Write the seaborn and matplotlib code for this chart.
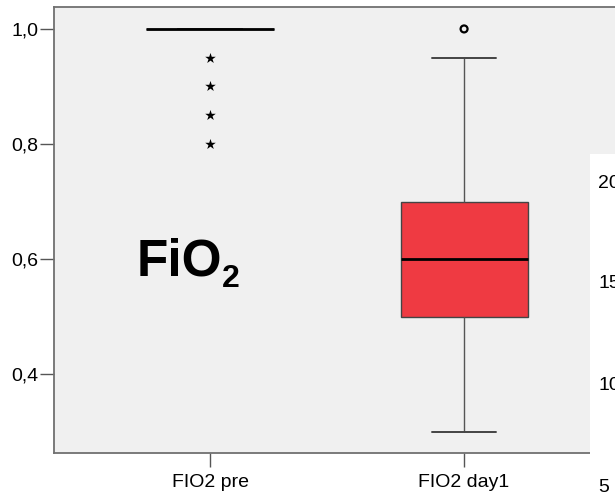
import matplotlib
matplotlib.use("Agg")
import matplotlib.pyplot as plt
from matplotlib.patches import Rectangle
import seaborn as sns
import pandas as pd

categories = ["FIO2 pre", "FIO2 day1"]
fio2_pre = [1.0, 1.0, 1.0, 1.0, 1.0, 1.0, 1.0, 1.0, 1.0, 1.0, 1.0, 1.0,
            1.0, 1.0, 0.95, 0.9, 0.85, 0.8]
fio2_day1 = [0.3, 0.4, 0.5, 0.5, 0.5, 0.5, 0.6, 0.6, 0.6, 0.6, 0.6, 0.7,
             0.7, 0.7, 0.7, 0.8, 0.95, 1.0]
pre_extremes = [0.95, 0.9, 0.85, 0.8]
day1_outliers = [1.0]
ytick_values = [0.4, 0.6, 0.8, 1.0]
ytick_labels = ["0,4", "0,6", "0,8", "1,0"]
other_chart_labels = ["20", "15", "10", "5"]

sns.set_style("white")
plt.rcParams["font.family"] = ["Liberation Sans", "DejaVu Sans"]
plt.rcParams["text.color"] = "black"

df = pd.DataFrame({
    "var": [categories[0]] * len(fio2_pre) + [categories[1]] * len(fio2_day1),
    "val": fio2_pre + fio2_day1,
})

fig = plt.figure(figsize=(6.15, 4.96), dpi=100)
ax = fig.add_axes([54 / 615, 1 - 453 / 496, 1 - 54 / 615, (453 - 6.5) / 496])
ax.set_facecolor("#f0f0f0")

sns.boxplot(data=df, x="var", y="val", order=categories, ax=ax,
            color="#ef3a42", saturation=1, width=0.5, whis=1.4,
            showfliers=False, linecolor="#444444", linewidth=1.0,
            medianprops=dict(color="black", linewidth=2.0),
            whiskerprops=dict(color="#555555", linewidth=1.0),
            capprops=dict(color="#444444", linewidth=1.4))

# SPSS-style outlier markers
sns.stripplot(x=[categories[0]] * len(pre_extremes), y=pre_extremes,
              order=categories, jitter=False, marker="*", color="black",
              size=8, linewidth=0, ax=ax)
sns.stripplot(x=[categories[1]] * len(day1_outliers), y=day1_outliers,
              order=categories, jitter=False, marker="o", facecolor="none",
              edgecolor="black", linewidth=1.6, size=5, ax=ax)

ax.set_xlim(-0.614, 1.594)
ax.set_ylim(0.263, 1.039)
ax.set_yticks(ytick_values)
ax.set_yticklabels(ytick_labels)
ax.set_xlabel("")
ax.set_ylabel("")
ax.tick_params(axis="both", labelsize=14, labelcolor="black", length=10,
               width=1, direction="out", pad=1, color="#555555",
               bottom=True, left=True)
ax.tick_params(axis="x", pad=5)
for s in ["left", "bottom", "top"]:
    ax.spines[s].set_visible(True)
    ax.spines[s].set_color("#707070")
    ax.spines[s].set_linewidth(1.3)
ax.spines["right"].set_visible(False)

# big FiO2 label
fig.text(137 / 615, 1 - 275 / 496, "FiO", fontsize=37, fontweight="bold",
         va="baseline", ha="left", color="black")
fig.text(222 / 615, 1 - 287 / 496, "2", fontsize=23, fontweight="bold",
         va="baseline", ha="left", color="black")

# partially visible neighbouring chart on the right
fig.add_artist(Rectangle((590 / 615, 0), 25 / 615, (496 - 154) / 496,
                         transform=fig.transFigure, facecolor="white",
                         edgecolor="none", zorder=10))
for lab, ypix in zip(other_chart_labels, [183, 283, 385, 487]):
    fig.text(598 / 615, 1 - ypix / 496, lab, fontsize=14, va="center",
             ha="left", zorder=11, color="black")

fig.savefig("out.png", dpi=100)
